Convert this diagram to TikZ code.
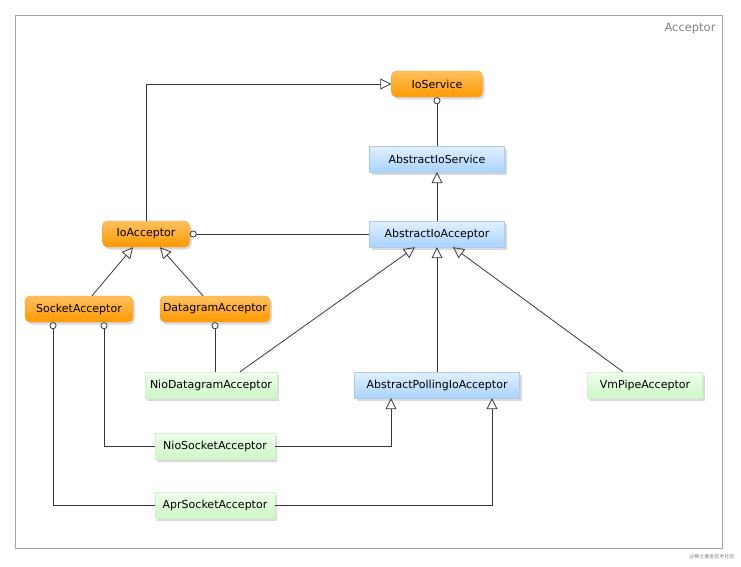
\documentclass[tikz,border=0pt]{standalone}
\usepackage{fontspec}
\setsansfont{DejaVu Sans}
\newfontfamily\cjkfont{Noto Sans CJK SC}
\usepackage{tikz}
\usetikzlibrary{arrows.meta, positioning, shadows}

\definecolor{ifacetop}{HTML}{FFC060}
\definecolor{ifacebot}{HTML}{FF9A00}
\definecolor{ifaceline}{HTML}{F0A030}
\definecolor{abstop}{HTML}{E2F0FF}
\definecolor{absbot}{HTML}{A9D3FF}
\definecolor{absline}{HTML}{A8CCEE}
\definecolor{impltop}{HTML}{EFFFEC}
\definecolor{implbot}{HTML}{CDF7C6}
\definecolor{implline}{HTML}{D8EED3}
\definecolor{edgecol}{HTML}{383838}

\begin{document}
\begin{tikzpicture}[x=1pt, y=-1pt,
    box/.style={font=\sffamily\fontsize{11}{13}\selectfont, minimum height=26, inner sep=0pt,
        drop shadow={shadow xshift=2pt, shadow yshift=-2.5pt, opacity=0.3}},
    iface/.style={box, rounded corners=5pt, draw=ifaceline, top color=ifacetop, bottom color=ifacebot},
    absc/.style={box, draw=absline, top color=abstop, bottom color=absbot},
    impl/.style={box, draw=implline, top color=impltop, bottom color=implbot},
    edge/.style={draw=edgecol, line width=0.8pt},
    gen/.style={edge, -{Triangle[open, length=11pt, width=11pt]}},
    real/.style={edge, {Circle[open, length=7pt, width=7pt, fill=white]}-}
]
    % Marco y titulo
    \useasboundingbox (0,0) rectangle (741,567);
    \draw[gray!70, line width=0.7pt] (15,15) rectangle (722,548);
    \node[font=\sffamily\fontsize{11.5}{13}\selectfont, text=gray, anchor=base east] (title) at (719,32) {Acceptor};
    \node[font=\cjkfont\fontsize{5}{6}\selectfont, text=gray, anchor=east] (mark) at (738,557) {@稀土掘金技术社区};

    % Interfaces
    \node[iface, minimum width=91] (ioservice) at (437,84) {IoService};
    \node[iface, minimum width=87] (ioacceptor) at (146,234) {IoAcceptor};
    \node[iface, minimum width=108] (socketacceptor) at (79,309) {SocketAcceptor};
    \node[iface, minimum width=110] (datagramacceptor) at (215,309) {DatagramAcceptor};

    % Clases abstractas
    \node[absc, minimum width=135] (abstractioservice) at (437,159) {AbstractIoService};
    \node[absc, minimum width=135] (abstractioacceptor) at (437,234) {AbstractIoAcceptor};
    \node[absc, minimum width=165] (abstractpolling) at (437,385) {AbstractPollingIoAcceptor};

    % Implementaciones
    \node[impl, minimum width=132] (niodatagram) at (211,385) {NioDatagramAcceptor};
    \node[impl, minimum width=115] (vmpipe) at (645,385) {VmPipeAcceptor};
    \node[impl, minimum width=120] (niosocket) at (215,446) {NioSocketAcceptor};
    \node[impl, minimum width=120] (aprsocket) at (215,505) {AprSocketAcceptor};

    % Herencia
    \draw[gen] (ioacceptor.north) |- (ioservice.west);
    \draw[gen] (abstractioacceptor.north) -- (abstractioservice.south);
    \draw[gen] ([xshift=13pt]socketacceptor.north) -- ([xshift=-13pt]ioacceptor.south);
    \draw[gen] ([xshift=-12pt]datagramacceptor.north) -- ([xshift=14pt]ioacceptor.south);
    \draw[gen] ([xshift=29pt]niodatagram.north) -- ([xshift=-22pt]abstractioacceptor.south);
    \draw[gen] (abstractpolling.north) -- (abstractioacceptor.south);
    \draw[gen] ([xshift=-22pt]vmpipe.north) -- ([xshift=16pt]abstractioacceptor.south);
    \draw[gen] (niosocket.east) -| ([xshift=-46pt]abstractpolling.south);
    \draw[gen] (aprsocket.east) -| ([xshift=55pt]abstractpolling.south);

    % Implementacion de interfaces
    \draw[real] (ioservice.south) -- (abstractioservice.north);
    \draw[real] (ioacceptor.east) -- (abstractioacceptor.west);
    \draw[real] (datagramacceptor.south) -- (datagramacceptor.south |- niodatagram.north);
    \draw[real] ([xshift=25pt]socketacceptor.south) |- (niosocket.west);
    \draw[real] ([xshift=-26pt]socketacceptor.south) |- (aprsocket.west);
\end{tikzpicture}
\end{document}
